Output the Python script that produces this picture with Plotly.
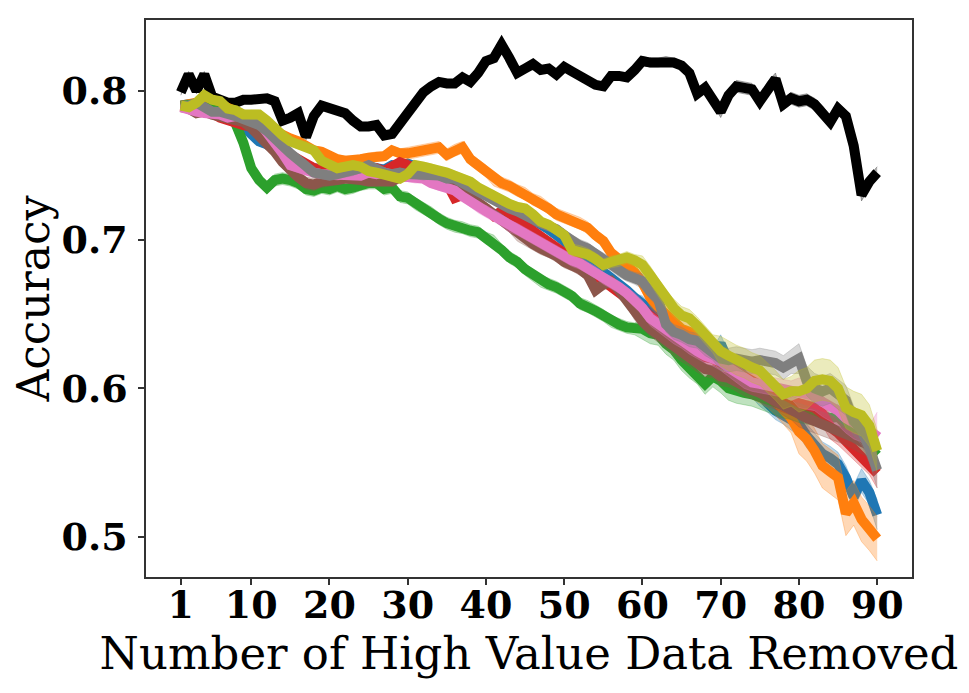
import plotly.graph_objects as go

X = list(range(1, 91))
X_TICKS = [1, 10, 20, 30, 40, 50, 60, 70, 80, 90]
Y_TICKS = [0.5, 0.6, 0.7, 0.8]

# mean accuracy per number of removed points
BLACK = [
    0.799, 0.811, 0.800, 0.811, 0.796, 0.794, 0.792, 0.792, 0.794, 0.794,
    0.795, 0.795, 0.793, 0.780, 0.782, 0.785, 0.769, 0.783, 0.790, 0.788,
    0.787, 0.785, 0.780, 0.776, 0.776, 0.777, 0.770, 0.771, 0.778, 0.786,
    0.792, 0.799, 0.803, 0.806, 0.805, 0.805, 0.809, 0.806, 0.812, 0.820,
    0.822, 0.831, 0.822, 0.812, 0.815, 0.818, 0.814, 0.815, 0.811, 0.816,
    0.813, 0.810, 0.807, 0.804, 0.803, 0.810, 0.810, 0.809, 0.814, 0.820,
    0.819, 0.819, 0.820, 0.819, 0.817, 0.812, 0.798, 0.802, 0.794, 0.786,
    0.797, 0.803, 0.802, 0.801, 0.793, 0.802, 0.808, 0.791, 0.795, 0.793,
    0.794, 0.791, 0.786, 0.779, 0.788, 0.783, 0.763, 0.730, 0.739, 0.745,
]
BLUE = [
    0.790, 0.791, 0.789, 0.788, 0.786, 0.784, 0.782, 0.780, 0.776, 0.771,
    0.766, 0.764, 0.760, 0.757, 0.755, 0.752, 0.750, 0.748, 0.747, 0.746,
    0.747, 0.746, 0.748, 0.747, 0.749, 0.748, 0.747, 0.750, 0.749, 0.751,
    0.749, 0.747, 0.746, 0.744, 0.741, 0.739, 0.737, 0.735, 0.733, 0.730,
    0.728, 0.726, 0.723, 0.720, 0.717, 0.714, 0.710, 0.707, 0.703, 0.699,
    0.696, 0.692, 0.688, 0.683, 0.679, 0.674, 0.670, 0.666, 0.661, 0.657,
    0.652, 0.648, 0.644, 0.640, 0.636, 0.632, 0.628, 0.628, 0.622, 0.630,
    0.618, 0.614, 0.608, 0.600, 0.594, 0.590, 0.585, 0.582, 0.578, 0.576,
    0.568, 0.562, 0.556, 0.553, 0.549, 0.540, 0.527, 0.538, 0.530, 0.515,
]
ORANGE = [
    0.790, 0.791, 0.792, 0.795, 0.794, 0.791, 0.789, 0.787, 0.784, 0.781,
    0.779, 0.776, 0.773, 0.770, 0.768, 0.766, 0.763, 0.760, 0.759, 0.756,
    0.754, 0.753, 0.753, 0.754, 0.755, 0.756, 0.756, 0.760, 0.758, 0.758,
    0.759, 0.760, 0.761, 0.762, 0.757, 0.760, 0.762, 0.754, 0.750, 0.746,
    0.740, 0.738, 0.736, 0.733, 0.731, 0.727, 0.725, 0.721, 0.717, 0.715,
    0.713, 0.711, 0.708, 0.703, 0.699, 0.691, 0.687, 0.683, 0.678, 0.671,
    0.661, 0.655, 0.650, 0.644, 0.640, 0.638, 0.632, 0.627, 0.622, 0.618,
    0.614, 0.610, 0.606, 0.603, 0.600, 0.597, 0.592, 0.586, 0.580, 0.571,
    0.566, 0.558, 0.548, 0.544, 0.540, 0.516, 0.523, 0.512, 0.506, 0.499,
]
GREEN = [
    0.790, 0.790, 0.791, 0.789, 0.788, 0.786, 0.784, 0.778, 0.765, 0.748,
    0.740, 0.735, 0.740, 0.741, 0.740, 0.738, 0.734, 0.733, 0.735, 0.734,
    0.736, 0.734, 0.735, 0.737, 0.738, 0.738, 0.734, 0.735, 0.729, 0.728,
    0.724, 0.721, 0.718, 0.714, 0.711, 0.709, 0.708, 0.706, 0.705, 0.701,
    0.699, 0.693, 0.688, 0.685, 0.680, 0.676, 0.672, 0.670, 0.668, 0.665,
    0.662, 0.657, 0.655, 0.652, 0.649, 0.645, 0.643, 0.641, 0.640, 0.640,
    0.637, 0.636, 0.630, 0.626, 0.619, 0.614, 0.610, 0.603, 0.608, 0.605,
    0.600, 0.598, 0.597, 0.596, 0.594, 0.592, 0.590, 0.588, 0.587, 0.585,
    0.584, 0.583, 0.582, 0.580, 0.581, 0.575, 0.570, 0.566, 0.560, 0.555,
]
RED = [
    0.790, 0.789, 0.788, 0.787, 0.785, 0.782, 0.780, 0.778, 0.777, 0.776,
    0.773, 0.770, 0.766, 0.760, 0.757, 0.753, 0.750, 0.748, 0.747, 0.747,
    0.748, 0.746, 0.745, 0.747, 0.745, 0.748, 0.746, 0.749, 0.752, 0.750,
    0.748, 0.745, 0.743, 0.740, 0.738, 0.728, 0.730, 0.727, 0.724, 0.721,
    0.716, 0.719, 0.717, 0.713, 0.710, 0.705, 0.702, 0.699, 0.695, 0.691,
    0.688, 0.684, 0.680, 0.676, 0.672, 0.668, 0.664, 0.660, 0.656, 0.652,
    0.649, 0.645, 0.641, 0.636, 0.632, 0.628, 0.624, 0.621, 0.620, 0.617,
    0.614, 0.612, 0.609, 0.606, 0.602, 0.597, 0.592, 0.590, 0.588, 0.590,
    0.588, 0.587, 0.583, 0.574, 0.570, 0.565, 0.560, 0.555, 0.550, 0.543,
]
BROWN = [
    0.789, 0.788, 0.785, 0.786, 0.784, 0.783, 0.782, 0.781, 0.779, 0.775,
    0.770, 0.764, 0.759, 0.752, 0.746, 0.742, 0.738, 0.737, 0.739, 0.739,
    0.740, 0.741, 0.741, 0.740, 0.739, 0.739, 0.740, 0.739, 0.742, 0.743,
    0.745, 0.746, 0.744, 0.741, 0.739, 0.737, 0.733, 0.729, 0.725, 0.721,
    0.717, 0.713, 0.709, 0.703, 0.700, 0.697, 0.694, 0.692, 0.689, 0.685,
    0.683, 0.680, 0.676, 0.666, 0.670, 0.672, 0.666, 0.659, 0.650, 0.645,
    0.640, 0.636, 0.632, 0.627, 0.623, 0.620, 0.616, 0.613, 0.612, 0.608,
    0.607, 0.604, 0.601, 0.599, 0.597, 0.594, 0.592, 0.588, 0.585, 0.582,
    0.580, 0.578, 0.576, 0.574, 0.572, 0.570, 0.567, 0.564, 0.562, 0.558,
]
PINK = [
    0.789, 0.787, 0.786, 0.785, 0.785, 0.784, 0.782, 0.783, 0.782, 0.780,
    0.779, 0.772, 0.766, 0.758, 0.750, 0.748, 0.746, 0.745, 0.744, 0.744,
    0.743, 0.744, 0.744, 0.743, 0.745, 0.744, 0.745, 0.743, 0.742, 0.742,
    0.741, 0.741, 0.738, 0.736, 0.735, 0.733, 0.729, 0.725, 0.721, 0.719,
    0.716, 0.713, 0.709, 0.707, 0.704, 0.701, 0.698, 0.695, 0.692, 0.689,
    0.686, 0.684, 0.681, 0.678, 0.674, 0.671, 0.668, 0.664, 0.660, 0.654,
    0.647, 0.643, 0.639, 0.635, 0.632, 0.628, 0.625, 0.622, 0.620, 0.618,
    0.614, 0.610, 0.606, 0.604, 0.603, 0.602, 0.601, 0.600, 0.599, 0.597,
    0.596, 0.595, 0.591, 0.588, 0.585, 0.580, 0.576, 0.574, 0.565, 0.572,
]
GRAY = [
    0.790, 0.790, 0.792, 0.789, 0.786, 0.786, 0.785, 0.783, 0.781, 0.779,
    0.777, 0.773, 0.769, 0.763, 0.758, 0.754, 0.748, 0.745, 0.744, 0.743,
    0.744, 0.745, 0.746, 0.748, 0.750, 0.747, 0.745, 0.744, 0.745, 0.744,
    0.744, 0.743, 0.744, 0.743, 0.741, 0.741, 0.738, 0.735, 0.732, 0.730,
    0.727, 0.724, 0.721, 0.719, 0.716, 0.713, 0.711, 0.709, 0.707, 0.703,
    0.699, 0.696, 0.694, 0.690, 0.687, 0.683, 0.679, 0.676, 0.674, 0.672,
    0.665, 0.660, 0.643, 0.638, 0.636, 0.633, 0.632, 0.627, 0.624, 0.620,
    0.619, 0.620, 0.619, 0.618, 0.619, 0.618, 0.617, 0.614, 0.618, 0.620,
    0.605, 0.600, 0.598, 0.600, 0.596, 0.592, 0.578, 0.572, 0.560, 0.545,
]
OLIVE = [
    0.790, 0.789, 0.792, 0.797, 0.794, 0.793, 0.788, 0.787, 0.784, 0.784,
    0.784, 0.780, 0.774, 0.770, 0.766, 0.764, 0.763, 0.760, 0.753, 0.750,
    0.748, 0.749, 0.750, 0.749, 0.746, 0.745, 0.744, 0.742, 0.741, 0.744,
    0.750, 0.749, 0.748, 0.746, 0.745, 0.743, 0.741, 0.739, 0.735, 0.732,
    0.730, 0.726, 0.724, 0.722, 0.721, 0.717, 0.712, 0.710, 0.706, 0.703,
    0.693, 0.692, 0.690, 0.687, 0.683, 0.685, 0.686, 0.688, 0.686, 0.683,
    0.676, 0.668, 0.660, 0.654, 0.649, 0.647, 0.642, 0.636, 0.630, 0.625,
    0.622, 0.619, 0.617, 0.614, 0.612, 0.607, 0.602, 0.596, 0.598, 0.598,
    0.600, 0.605, 0.606, 0.605, 0.600, 0.587, 0.584, 0.582, 0.575, 0.558,
]

# half-width of the shaded band, one value per block of ten removals
BLACK_BAND = [0.002, 0.002, 0.002, 0.002, 0.002, 0.002, 0.003, 0.004, 0.004, 0.004]
BLUE_BAND = [0.002, 0.003, 0.003, 0.003, 0.003, 0.003, 0.005, 0.006, 0.008, 0.010]
ORANGE_BAND = [0.002, 0.003, 0.003, 0.004, 0.004, 0.004, 0.006, 0.010, 0.015, 0.015]
GREEN_BAND = [0.002, 0.004, 0.004, 0.004, 0.004, 0.004, 0.007, 0.008, 0.008, 0.010]
RED_BAND = [0.002, 0.003, 0.003, 0.003, 0.003, 0.003, 0.005, 0.006, 0.008, 0.010]
BROWN_BAND = [0.002, 0.004, 0.003, 0.003, 0.004, 0.004, 0.005, 0.006, 0.008, 0.010]
PINK_BAND = [0.002, 0.003, 0.003, 0.003, 0.004, 0.004, 0.005, 0.006, 0.010, 0.012]
GRAY_BAND = [0.002, 0.003, 0.003, 0.003, 0.003, 0.004, 0.005, 0.008, 0.010, 0.012]
OLIVE_BAND = [0.002, 0.003, 0.003, 0.003, 0.003, 0.004, 0.006, 0.010, 0.014, 0.014]

SERIES = [
    ("black", BLACK, BLACK_BAND, (0, 0, 0)),
    ("blue", BLUE, BLUE_BAND, (31, 119, 180)),
    ("orange", ORANGE, ORANGE_BAND, (255, 127, 14)),
    ("green", GREEN, GREEN_BAND, (44, 160, 44)),
    ("red", RED, RED_BAND, (214, 39, 40)),
    ("brown", BROWN, BROWN_BAND, (140, 86, 75)),
    ("pink", PINK, PINK_BAND, (227, 119, 194)),
    ("gray", GRAY, GRAY_BAND, (127, 127, 127)),
    ("olive", OLIVE, OLIVE_BAND, (188, 189, 34)),
]

SERIF = "DejaVu Serif"

fig = go.Figure()
for name, ys, band, (r, g, b) in SERIES:
    half = [band[min(x // 10, 9)] for x in X]
    lo = [y - h for y, h in zip(ys, half)]
    hi = [y + h for y, h in zip(ys, half)]
    edge = f"rgba({r},{g},{b},0.3)"
    fig.add_trace(go.Scatter(x=X, y=lo, mode="lines", line=dict(color=edge, width=1),
                             showlegend=False, hoverinfo="skip"))
    fig.add_trace(go.Scatter(x=X, y=hi, mode="lines", line=dict(color=edge, width=1),
                             fill="tonexty", fillcolor=edge, showlegend=False, hoverinfo="skip"))
    fig.add_trace(go.Scatter(x=X, y=ys, mode="lines", name=name,
                             line=dict(color=f"rgb({r},{g},{b})", width=10), showlegend=False))

axis_common = dict(
    showgrid=False, zeroline=False, showline=True, mirror=True,
    linecolor="#333333", linewidth=1.5,
    ticks="outside", ticklen=6, tickwidth=1.5, tickcolor="#333333",
    tickfont=dict(family=SERIF, size=38, color="black", weight="bold"),
)

# the page body adds an 8px offset, so the figure is 8px smaller than the window
fig.update_layout(
    width=961, height=685,
    paper_bgcolor="white", plot_bgcolor="white",
    margin=dict(l=138, r=57, t=10, b=116),
    xaxis=dict(
        range=[-3.45, 94.45], tickvals=X_TICKS, ticktext=[str(v) for v in X_TICKS],
        ticklabelstandoff=-12,
        title=dict(text="Number of High Value Data Removed", standoff=4,
                   font=dict(family=SERIF, size=45, color="black")),
        **axis_common,
    ),
    yaxis=dict(
        range=[0.4732, 0.8476], tickvals=Y_TICKS, ticktext=[f"{v:.1f}" for v in Y_TICKS],
        ticklabelstandoff=3,
        title=dict(text="Accuracy", standoff=4,
                   font=dict(family=SERIF, size=44, color="black")),
        **axis_common,
    ),
)

fig.write_html("out.html")
